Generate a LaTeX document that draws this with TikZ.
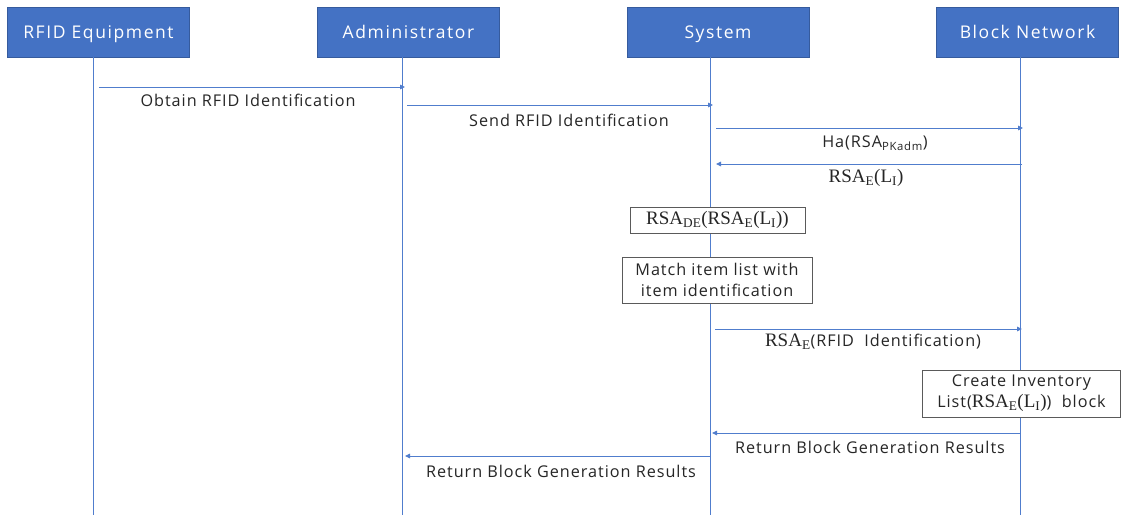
\documentclass[tikz,border=0pt]{standalone}
\usepackage{fontspec}
\setmainfont{Open Sans}[LetterSpace=6]
\newfontfamily\hdrfont{Open Sans}[LetterSpace=9]
\newfontfamily\serifm{Liberation Serif}
\usetikzlibrary{arrows.meta}
\definecolor{hdrblue}{RGB}{68,114,196}
\definecolor{lnblue}{RGB}{80,125,205}
\definecolor{boxgray}{RGB}{90,90,90}
\tikzset{
  hdr/.style={draw=hdrblue!80!black, line width=0.6pt, fill=hdrblue, text=white, minimum width=182pt, minimum height=50pt, inner sep=0pt, text height=12.5pt, text depth=0pt, font=\hdrfont\fontsize{17.5}{20}\selectfont},
  life/.style={draw=lnblue, line width=1pt},
  msg/.style={draw=lnblue, line width=0.9pt, -{Triangle[length=5pt,width=4.5pt]}},
  lbl/.style={inner sep=0pt, font=\fontsize{16.2}{19}\selectfont, text=black!85},
  actbox/.style={draw=boxgray, line width=0.9pt, fill=white, inner sep=0pt, align=center, font=\fontsize{16.2}{21}\selectfont, text=black!85}
}
\newcommand{\Sf}[1]{{\serifm\fontsize{19}{21}\selectfont #1}}
\newcommand{\RSAe}{\Sf{RSA\textsubscript{E}(L\textsubscript{I})}}
\begin{document}
\begin{tikzpicture}[x=1pt,y=-1pt]
\useasboundingbox[fill=white] (0,0) rectangle (1122,515);
% headers
\node[hdr] (hR) at (98.5,32) {RFID Equipment};
\node[hdr] (hA) at (408.5,32) {Administrator};
\node[hdr] (hS) at (718,32) {System};
\node[hdr] (hB) at (1027.5,32) {Block Network};
% lifeline ends
\coordinate (lRt) at (93,57);  \coordinate (lRb) at (93,515);
\coordinate (lAt) at (402,57); \coordinate (lAb) at (402,515);
\coordinate (lSt) at (710,57); \coordinate (lSb) at (710,515);
\coordinate (lBt) at (1020,57);\coordinate (lBb) at (1020,515);
\draw[life] (lRt) -- (lRb);
\draw[life] (lAt) -- (lAb);
\draw[life] (lSt) -- (lSb);
\draw[life] (lBt) -- (lBb);
% messages
\coordinate (m1a) at (99,87);   \coordinate (m1b) at (405,87);
\coordinate (m2a) at (407,105); \coordinate (m2b) at (713,105);
\coordinate (m3a) at (716,128); \coordinate (m3b) at (1023,128);
\coordinate (m4a) at (1022,164);\coordinate (m4b) at (716,164);
\coordinate (m5a) at (715,329); \coordinate (m5b) at (1022,329);
\coordinate (m6a) at (1020,433);\coordinate (m6b) at (712,433);
\coordinate (m7a) at (710,456); \coordinate (m7b) at (405,456);
\draw[msg] (m1a) -- (m1b);
\draw[msg] (m2a) -- (m2b);
\draw[msg] (m3a) -- (m3b);
\draw[msg] (m4a) -- (m4b);
\draw[msg] (m5a) -- (m5b);
\draw[msg] (m6a) -- (m6b);
\draw[msg] (m7a) -- (m7b);
% labels
\node[lbl] (t1) at (248,100) {Obtain RFID Identification};
\node[lbl] (t2) at (569,120) {Send RFID Identification};
\node[lbl] (t3) at (875,143) {Ha(RSA\textsubscript{PKadm})};
\node[lbl] (t4) at (866,178) {\RSAe};
\node[lbl] (t5) at (873,342) {\Sf{RSA\textsubscript{E}}(RFID\ \ Identification)};
\node[lbl] (t6) at (870,447) {Return Block Generation Results};
\node[lbl] (t7) at (561,471) {Return Block Generation Results};
% activity boxes
\node[actbox, minimum width=175pt, minimum height=26pt] (b1) at (717.5,220) {\Sf{RSA\textsubscript{DE}(RSA\textsubscript{E}(L\textsubscript{I}))}};
\node[actbox, minimum width=190pt, minimum height=46pt] (b2) at (717,280) {Match item list with\\item identification};
\node[actbox, minimum width=198pt, minimum height=47pt] (b3) at (1021.5,393.5) {Create Inventory\\List(\RSAe)\ \ block};
\end{tikzpicture}
\end{document}
